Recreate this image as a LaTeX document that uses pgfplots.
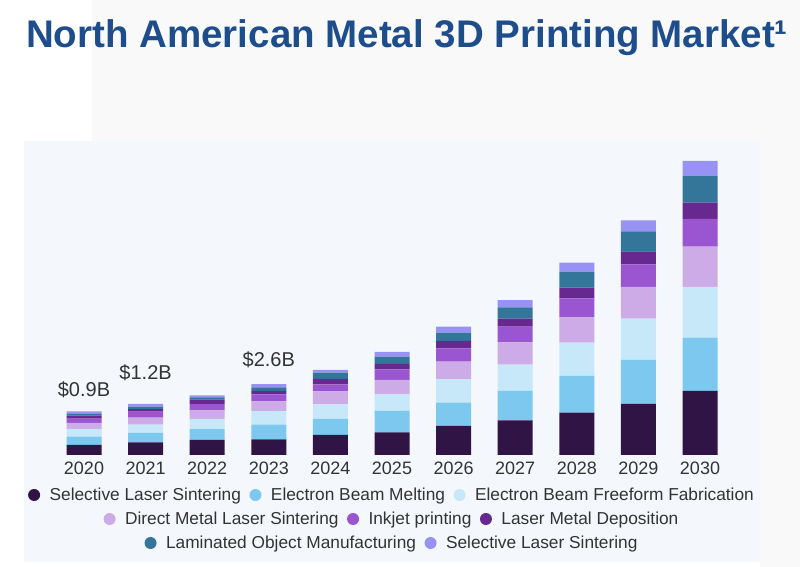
\documentclass[border=0pt]{standalone}
\usepackage{fontspec}
\setmainfont{Liberation Sans}
\usepackage{pgfplots}
\pgfplotsset{compat=1.18}
\usepackage{pgfplotstable}

\definecolor{cSLS}{HTML}{301445}
\definecolor{cEBM}{HTML}{7CC8EE}
\definecolor{cEBFF}{HTML}{C7E8F8}
\definecolor{cDMLS}{HTML}{CDABE6}
\definecolor{cINK}{HTML}{9A55D0}
\definecolor{cLMD}{HTML}{67288F}
\definecolor{cLOM}{HTML}{34769A}
\definecolor{cSLStwo}{HTML}{9892F5}
\definecolor{titleblue}{HTML}{1E4D8C}
\definecolor{panel}{HTML}{F4F8FC}
\definecolor{bggray}{HTML}{F9F9F9}
\definecolor{txt}{HTML}{333333}

\pgfplotstableread{
idx year sls ebm ebff dmls ink lmd lom slstwo
0 2020 10 8.3 7.7 6 4.3 3 1.7 2.7
1 2021 12.5 9.5 8.4 6.9 6.1 2.5 2.5 2.6
2 2022 15 10.8 10.2 8.6 6.2 4.5 2.3 2
3 2023 15.7 14.6 13.6 9.8 7 3.3 3.6 3.2
4 2024 20 16 14.7 13 7 5.3 6.3 2.7
5 2025 22.7 21.3 16.7 14.3 10.7 5.3 7.3 4.7
6 2026 29 23.3 23.4 17.6 13.4 7.3 8.3 6
7 2027 34.7 29.3 26.3 22.4 15.6 8 11.3 7.3
8 2028 42.3 36.7 33.3 25.4 19 10.6 16 9
9 2029 51 44 41.3 31.7 22.7 13 20 11
10 2030 64 53.3 50.7 40.3 27.7 16.3 27 14.7
}\datatable

\pgfplotsset{
  legrow/.style={
    scale only axis, width=1pt, height=1pt, hide axis,
    xmin=0, xmax=1, ymin=0, ymax=1,
    legend style={at={(0.5,0.5)}, anchor=center, draw=none, fill=none,
      legend columns=-1, font=\fontsize{17.3}{17.3}\selectfont, text=txt,
      /tikz/every odd column/.append style={column sep=7.5pt},
      /tikz/every even column/.append style={column sep=6.5pt}},
    legend image code/.code={\fill (0pt,0pt) circle (6pt);},
  }
}

\begin{document}
\begin{tikzpicture}[x=1pt,y=1pt]
\useasboundingbox (0,0) rectangle (800,567);
\fill[white] (0,0) rectangle (800,567);
\fill[bggray] (92,426) rectangle (800,567);
\fill[bggray] (760,0) rectangle (800,567);
\fill[panel] (24,5) rectangle (760,426.3);
\node[anchor=base west, inner sep=0pt, font=\fontsize{38.5}{40}\selectfont\bfseries, text=titleblue] at (26,519.3) {North American Metal 3D Printing Market¹};

\begin{axis}[
  at={(22.4pt,112pt)}, anchor=south west,
  scale only axis, width=739.2pt, height=314pt,
  xmin=-1, xmax=11, ymin=0, ymax=314,
  enlargelimits=false,
  ybar stacked, bar width=35pt,
  xtick=data,
  xticklabels={2020,2021,2022,2023,2024,2025,2026,2027,2028,2029,2030},
  axis line style={draw=none}, major tick length=0pt, ytick=\empty,
  xticklabel style={anchor=base, yshift=-20pt, font=\fontsize{18}{18}\selectfont, text=txt},
  clip=false,
]
\addplot[fill=cSLS, draw=none] table[x=idx,y=sls]{\datatable};
\addplot[fill=cEBM, draw=none] table[x=idx,y=ebm]{\datatable};
\addplot[fill=cEBFF, draw=none] table[x=idx,y=ebff]{\datatable};
\addplot[fill=cDMLS, draw=none] table[x=idx,y=dmls]{\datatable};
\addplot[fill=cINK, draw=none] table[x=idx,y=ink]{\datatable};
\addplot[fill=cLMD, draw=none] table[x=idx,y=lmd]{\datatable};
\addplot[fill=cLOM, draw=none] table[x=idx,y=lom]{\datatable};
\addplot[fill=cSLStwo, draw=none] table[x=idx,y=slstwo]{\datatable};
\node[anchor=base, inner sep=0pt, font=\fontsize{20}{20}\selectfont, text=txt] at (axis cs:0,58.3) {\$0.9B};
\node[anchor=base, inner sep=0pt, font=\fontsize{20}{20}\selectfont, text=txt] at (axis cs:1,75) {\$1.2B};
\node[anchor=base, inner sep=0pt, font=\fontsize{20}{20}\selectfont, text=txt] at (axis cs:3,88.3) {\$2.6B};
\end{axis}

\begin{axis}[legrow, at={(392pt,72pt)}, anchor=center]
\addlegendimage{fill=cSLS, draw=none}
\addlegendentry{Selective Laser Sintering}
\addlegendimage{fill=cEBM, draw=none}
\addlegendentry{Electron Beam Melting}
\addlegendimage{fill=cEBFF, draw=none}
\addlegendentry{Electron Beam Freeform Fabrication}
\end{axis}

\begin{axis}[legrow, at={(392pt,48pt)}, anchor=center]
\addlegendimage{fill=cDMLS, draw=none}
\addlegendentry{Direct Metal Laser Sintering}
\addlegendimage{fill=cINK, draw=none}
\addlegendentry{Inkjet printing}
\addlegendimage{fill=cLMD, draw=none}
\addlegendentry{Laser Metal Deposition}
\end{axis}

\begin{axis}[legrow, at={(392pt,24pt)}, anchor=center]
\addlegendimage{fill=cLOM, draw=none}
\addlegendentry{Laminated Object Manufacturing}
\addlegendimage{fill=cSLStwo, draw=none}
\addlegendentry{Selective Laser Sintering}
\end{axis}
\end{tikzpicture}
\end{document}
